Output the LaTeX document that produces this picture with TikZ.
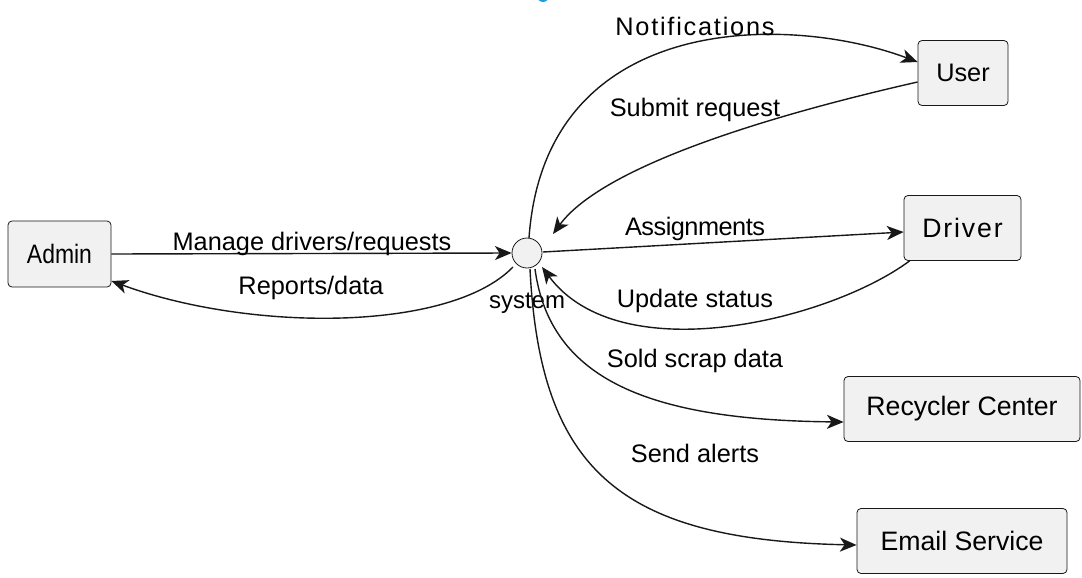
\documentclass[tikz,border=0pt]{standalone}
\usepackage{fontspec}
\setmainfont{Liberation Sans}
\newfontfamily\spacedfont[LetterSpace=7]{Liberation Sans}
\newfontfamily\tightfont[LetterSpace=-2]{Liberation Sans}
\usetikzlibrary{arrows.meta}
\definecolor{boxfill}{HTML}{F1F1F1}
\definecolor{boxline}{HTML}{181818}
\definecolor{titleblue}{HTML}{1E9BE8}
\begin{document}
\begin{tikzpicture}[x=0.75pt,y=-0.75pt,
  actor/.style={draw=boxline,fill=boxfill,rounded corners=3pt,line width=0.6pt,
    inner sep=0pt,font=\fontsize{20}{24}\selectfont},
  lbl/.style={font=\fontsize{19}{22}\selectfont,inner sep=0pt},
  flow/.style={draw=boxline,line width=1.05pt,-{Stealth[length=12.5pt,width=10.5pt,inset=3.5pt]}}]
\useasboundingbox (0,0) rectangle (1082,578);
\fill[titleblue] (543,-4) circle (6);
\node[actor,minimum width=77.25pt,minimum height=49.5pt] (admin) at (59.5,254) {\raisebox{-1.5pt}{\scalebox{0.86}[1]{Admin}}};
\node[actor,minimum width=67.5pt,minimum height=48.75pt] (user) at (963,73) {\fontsize{19}{22}\selectfont\raisebox{-1.5pt}{User}};
\node[actor,minimum width=87.75pt,minimum height=48.75pt] (driver) at (962.5,228) {\spacedfont\raisebox{-1.5pt}{Driver}};
\node[actor,minimum width=177pt,minimum height=48.75pt] (recycler) at (962,409) {\raisebox{-1.5pt}{Recycler Center}};
\node[actor,minimum width=157.5pt,minimum height=48.75pt] (email) at (962,541) {\raisebox{-1.5pt}{Email Service}};
\node[draw=boxline,fill=boxfill,circle,minimum size=22.5pt,inner sep=0pt,line width=0.6pt] (sys) at (527,253) {};
\node[lbl,font=\fontsize{18}{22}\selectfont] (syslbl) at (527,303) {system};
\coordinate (s-top) at (529,238);
\coordinate (s-ul) at (553,234);
\coordinate (s-r) at (543,252);
\coordinate (s-lr) at (542,267);
\coordinate (s-ll) at (513,267);
\coordinate (s-b1) at (535,269);
\coordinate (s-b2) at (530,269);
% Admin -> system
\draw[flow] (admin.east) -- (sys.west);
\node[lbl] (l1) at (312,243.5) {Manage drivers/requests};
% system -> Admin
\draw[flow] (s-ll) .. controls (450,332) and (250,332) .. (admin.south east |- 0,281);
\node[lbl] (l2) at (311,287.5) {Reports/data};
% system -> User
\draw[flow] (s-top) .. controls (545,10) and (790,14) .. (user.west |- 0,62);
\node[lbl,font=\spacedfont\fontsize{19}{22}\selectfont] (l3) at (695,26.5) {Notifications};
% User -> system
\draw[flow] (user.west |- 0,82) .. controls (750,120) and (600,170) .. (s-ul);
\node[lbl] (l4) at (695,109.5) {Submit request};
% system -> Driver
\draw[flow] (s-r) -- (driver.west |- 0,232);
\node[lbl,font=\tightfont\fontsize{19}{22}\selectfont] (l5) at (695,228.5) {Assignments};
% Driver -> system
\draw[flow] (driver.south west) ++(6,0) .. controls (830,320) and (620,372) .. (s-lr);
\node[lbl] (l6) at (695,300.5) {Update status};
% system -> Recycler
\draw[flow] (s-b1) .. controls (550,380) and (650,420) .. (recycler.west |- 0,422);
\node[lbl] (l7) at (695,360.5) {Sold scrap data};
% system -> Email
\draw[flow] (s-b2) .. controls (540,470) and (620,540) .. (email.west |- 0,545);
\node[lbl] (l8) at (695,453.5) {Send alerts};
\end{tikzpicture}
\end{document}
